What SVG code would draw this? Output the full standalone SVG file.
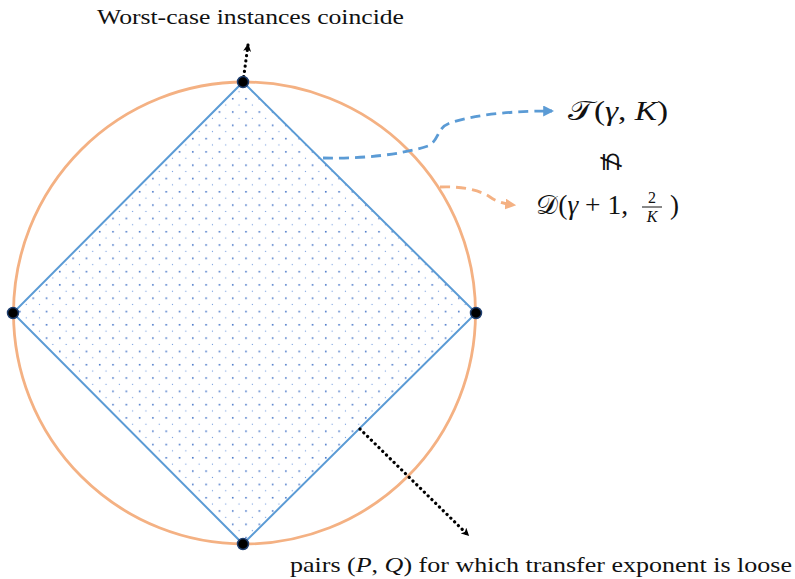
<svg xmlns="http://www.w3.org/2000/svg" width="795" height="579" viewBox="0 0 795 579">
<style>
text{font-family:"Liberation Serif","Times New Roman",serif;fill:#111}
.it{font-style:italic}
.dot{stroke:#000;stroke-width:3.2;stroke-dasharray:0.1 5.2;stroke-linecap:round;fill:none}
.vtx{fill:#000;stroke:#1f3f70;stroke-width:1.5}
</style>
<defs>
<pattern id="dots" patternUnits="userSpaceOnUse" width="13.3" height="13.3" x="3" y="2">
<rect x="2.8" y="2.8" width="1.6" height="1.6" fill="#4a78c8"/>
<rect x="9.4" y="9.4" width="1.1" height="1.1" fill="#6f98dc"/>
</pattern>
<marker id="ak" viewBox="0 0 10 10" refX="8" refY="5" markerWidth="8" markerHeight="8" markerUnits="userSpaceOnUse" orient="auto"><path d="M0,0 L10,5 L0,10 L2.5,5 Z" fill="#000"/></marker>
<marker id="ab" viewBox="0 0 10 10" refX="8" refY="5" markerWidth="11" markerHeight="11" markerUnits="userSpaceOnUse" orient="auto"><path d="M0,0 L10,5 L0,10 Z" fill="#5b9bd5"/></marker>
<marker id="ao" viewBox="0 0 10 10" refX="8" refY="5" markerWidth="11" markerHeight="11" markerUnits="userSpaceOnUse" orient="auto"><path d="M0,0 L10,5 L0,10 Z" fill="#f4b183"/></marker>
</defs>
<g id="region">
<polygon points="243,82 476,313 243,544 13,313" fill="url(#dots)" stroke="#5b9bd5" stroke-width="2"/>
</g>
<g id="circle">
<circle cx="244.5" cy="313" r="231" fill="none" stroke="#f4b183" stroke-width="2.8"/>
</g>
<g id="connectors">
<path class="dot" d="M243,82 L248,45" marker-end="url(#ak)"/>
<path class="dot" d="M360,429 L468,535" marker-end="url(#ak)"/>
<path d="M323,158 C360,159 400,155 428,146 C440,140 436,128 450,123 C480,113 520,111 552,111" fill="none" stroke="#5b9bd5" stroke-width="2.8" stroke-dasharray="10 6" marker-end="url(#ab)"/>
<path d="M440,187 C460,186 480,190 490,197 C497,202 505,204 514,205" fill="none" stroke="#f4b183" stroke-width="2.8" stroke-dasharray="10 6" marker-end="url(#ao)"/>
</g>
<g id="vertices">
<circle class="vtx" cx="243" cy="82" r="5.5"/>
<circle class="vtx" cx="476" cy="313" r="5.5"/>
<circle class="vtx" cx="243" cy="544" r="5.5"/>
<circle class="vtx" cx="13" cy="313" r="5.5"/>
</g>
<g id="labels">
<text x="97" y="24" font-size="21" textLength="307" lengthAdjust="spacingAndGlyphs">Worst-case instances coincide</text>
<text x="290" y="572" font-size="21" textLength="502" lengthAdjust="spacingAndGlyphs">pairs (<tspan class="it">P</tspan>, <tspan class="it">Q</tspan>) for which transfer exponent is loose</text>
<text x="568" y="120" font-size="27" textLength="100" lengthAdjust="spacingAndGlyphs">𝒯(<tspan class="it">γ</tspan>, <tspan class="it">K</tspan>)</text>
<text x="0" y="0" font-size="26" transform="translate(611,162) rotate(90)" text-anchor="middle" dominant-baseline="central">⊈</text>
<text x="536" y="214" font-size="27" textLength="92" lengthAdjust="spacingAndGlyphs">𝒟(<tspan class="it">γ</tspan> + 1,</text>
<text x="652" y="203" font-size="16" text-anchor="middle">2</text>
<line x1="642" y1="207" x2="662" y2="207" stroke="#111" stroke-width="1"/>
<text class="it" x="652" y="222" font-size="16" text-anchor="middle">K</text>
<text x="670" y="214" font-size="27">)</text>
</g>
</svg>
